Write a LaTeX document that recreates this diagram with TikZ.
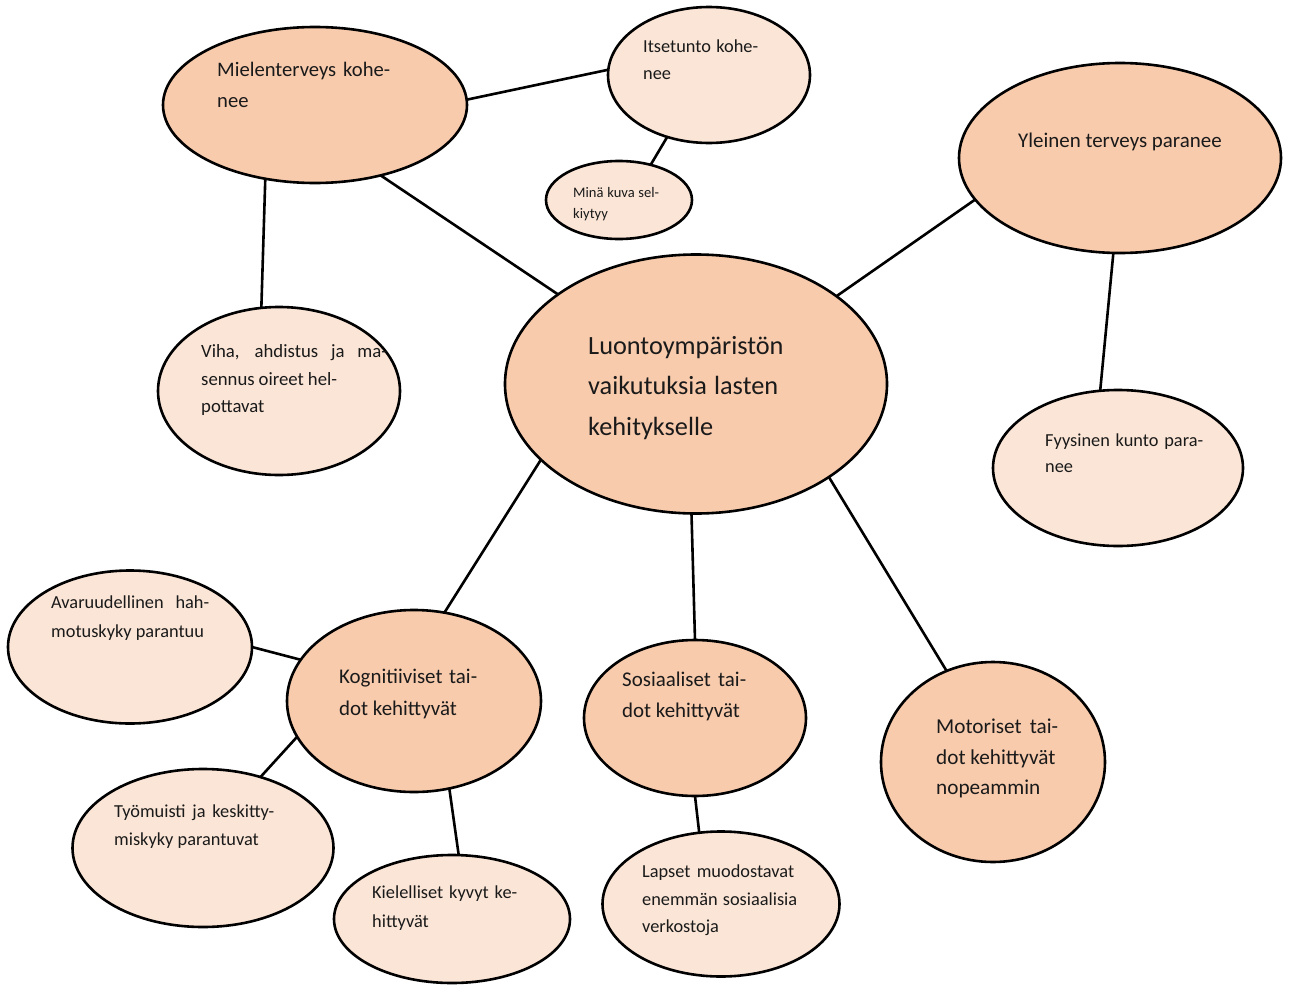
\documentclass[tikz,border=0pt]{standalone}
\usepackage{fontspec}
\setmainfont{Carlito}
\usetikzlibrary{shapes.geometric}
\definecolor{dk}{HTML}{F8CBAD}
\definecolor{lt}{HTML}{FBE5D6}
\definecolor{txtc}{HTML}{1A1A1A}
\newcommand{\jl}[2]{\makebox[#1bp][s]{#2}}
\tikzset{
  ell/.style={ellipse, draw=black, line width=2.6bp, inner sep=0pt, outer sep=0pt},
  dkell/.style={ell, fill=dk},
  ltell/.style={ell, fill=lt},
  txt/.style={anchor=north west, align=left, inner sep=0pt, text=txtc},
  conn/.style={draw=black, line width=2.6bp}
}
\begin{document}
\begin{tikzpicture}[x=1bp, y=-1bp]
\useasboundingbox (0,0) rectangle (1291,988);
% ellipses
\node[dkell, minimum width=304bp, minimum height=156bp] (Mi) at (315,105) {};
\node[ltell, minimum width=202bp, minimum height=136bp] (It) at (709,75) {};
\node[ltell, minimum width=146bp, minimum height=78bp] (Mn) at (619,200) {};
\node[dkell, minimum width=322bp, minimum height=190bp] (Y) at (1120,158) {};
\node[dkell, minimum width=382bp, minimum height=259bp] (C) at (696,384) {};
\node[ltell, minimum width=242bp, minimum height=168bp] (Vi) at (279,391) {};
\node[ltell, minimum width=250bp, minimum height=156bp] (F) at (1118,468) {};
\node[ltell, minimum width=244bp, minimum height=153bp] (A) at (130,647) {};
\node[dkell, minimum width=254bp, minimum height=182bp] (K) at (414,701) {};
\node[dkell, minimum width=222bp, minimum height=156bp] (S) at (695,718) {};
\node[dkell, minimum width=224bp, minimum height=200bp] (Mo) at (993,762) {};
\node[ltell, minimum width=261bp, minimum height=158bp] (T) at (203,848) {};
\node[ltell, minimum width=236bp, minimum height=128bp] (Ki) at (452,919) {};
\node[ltell, minimum width=237bp, minimum height=145bp] (L) at (721,904) {};
% connectors
\draw[conn] (Mi.2) -- (It.177);
\draw[conn] (It.236) -- (Mn.48);
\draw[conn] (Mi.313) -- (C.147);
\draw[conn] (Mi.236) -- (Vi.102);
\draw[conn] (Y.196) -- (C.32);
\draw[conn] (Y.266) -- (F.103);
\draw[conn] (C.206.5) -- (K.71);
\draw[conn] (C.268) -- (S.90);
\draw[conn] (C.325.5) -- (Mo.117);
\draw[conn] (K.160) -- (A.0);
\draw[conn] (K.197) -- (T.51);
\draw[conn] (K.292) -- (Ki.84);
\draw[conn] (S.270) -- (L.107);
% texts
\node[txt, font=\fontsize{20.7}{32}\selectfont] (tMi) at (217,53.6) {\strut\jl{173}{Mielenterveys kohe-}\\nee};
\node[txt, font=\fontsize{18.4}{27}\selectfont] (tIt) at (643,33.1) {\strut\jl{115}{Itsetunto kohe-}\\nee};
\node[txt, font=\fontsize{14.6}{21}\selectfont] (tMn) at (573,182.3) {\strut\jl{86}{Minä kuva sel-}\\kiytyy};
\node[txt, font=\fontsize{21}{32}\selectfont] (tY) at (1018,124.6) {\strut Yleinen terveys paranee};
\node[txt, font=\fontsize{26.4}{41}\selectfont] (tC) at (588,325.3) {\strut\jl{197}{Luontoympäristön}\\\jl{190}{vaikutuksia lasten}\\kehitykselle};
\node[txt, font=\fontsize{18.8}{28}\selectfont] (tVi) at (201,337.4) {\strut\jl{186}{Viha, ahdistus ja ma-}\\\jl{136}{sennus oireet hel-}\\pottavat};
\node[txt, font=\fontsize{18.4}{26}\selectfont] (tF) at (1045,427.8) {\strut\jl{158}{Fyysinen kunto para-}\\nee};
\node[txt, font=\fontsize{18.4}{29}\selectfont] (tA) at (51,587.7) {\strut\jl{158}{Avaruudellinen hah-}\\motuskyky parantuu};
\node[txt, font=\fontsize{21}{32}\selectfont] (tK) at (339,660.6) {\strut\jl{138}{Kognitiiviset tai-}\\dot kehittyvät};
\node[txt, font=\fontsize{21}{31}\selectfont] (tS) at (622,664.3) {\strut\jl{124}{Sosiaaliset tai-}\\dot kehittyvät};
\node[txt, font=\fontsize{21.3}{31}\selectfont] (tMo) at (936,711.3) {\strut\jl{122}{Motoriset tai-}\\dot kehittyvät\\nopeammin};
\node[txt, font=\fontsize{18.4}{28}\selectfont] (tT) at (114,797.4) {\strut\jl{160}{Työmuisti ja keskitty-}\\miskyky parantuvat};
\node[txt, font=\fontsize{18.4}{29}\selectfont] (tKi) at (372,877.7) {\strut\jl{145}{Kielelliset kyvyt ke-}\\hittyvät};
\node[txt, font=\fontsize{18.4}{28}\selectfont] (tL) at (642,857.4) {\strut\jl{152}{Lapset muodostavat}\\\jl{155}{enemmän sosiaalisia}\\verkostoja};
\end{tikzpicture}
\end{document}
